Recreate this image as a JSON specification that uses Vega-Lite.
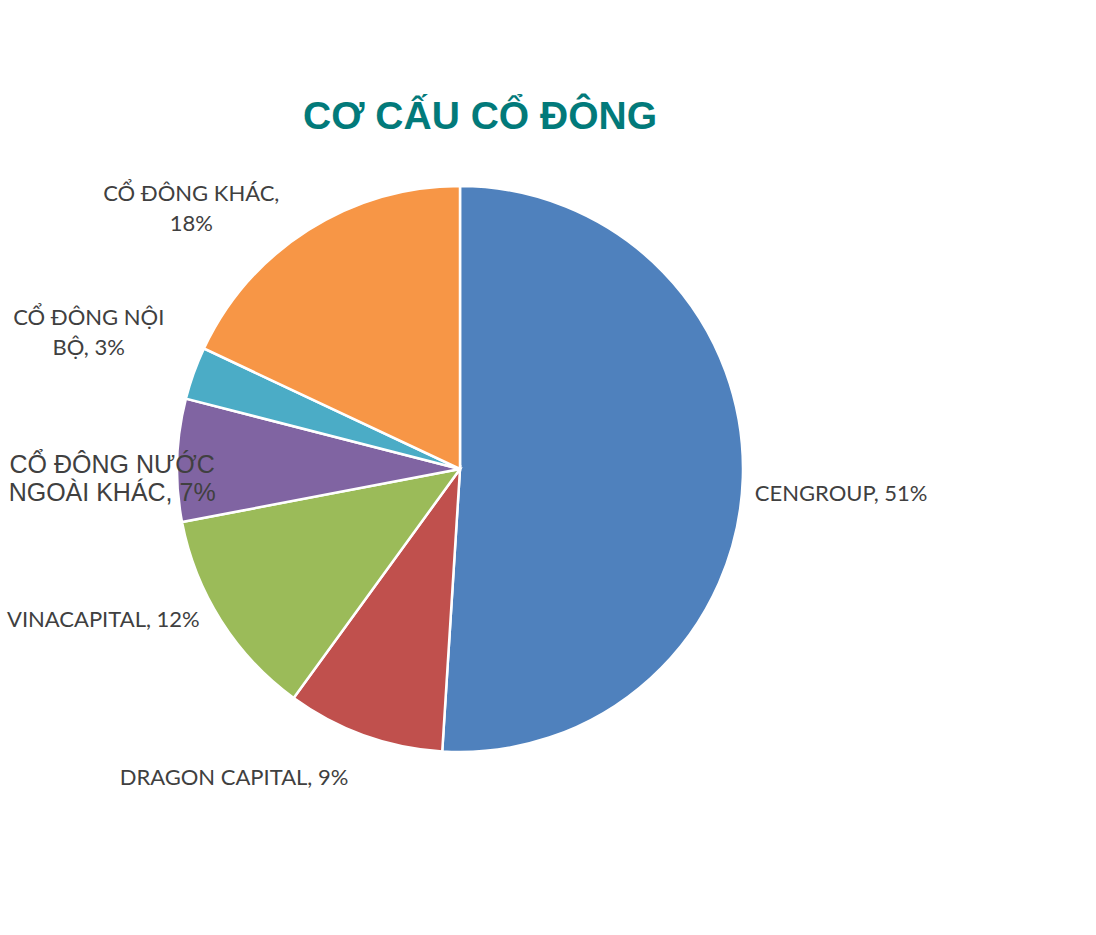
{
  "$schema": "https://vega.github.io/schema/vega-lite/v6.json",
  "width": 920,
  "height": 638,
  "autosize": {"type": "none"},
  "padding": {"left": 0, "top": 150, "right": 176, "bottom": 147},
  "background": "white",
  "view": {"stroke": null},
  "title": {
    "text": "CƠ CẤU CỔ ĐÔNG",
    "font": "Liberation Sans",
    "fontSize": 39,
    "fontWeight": "bold",
    "color": "#027A7A",
    "anchor": "middle",
    "dx": 20,
    "offset": 13
  },
  "data": {
    "values": [
      {"rank": 1, "name": "CENGROUP", "value": 51, "label": "CENGROUP, 51%"},
      {"rank": 2, "name": "DRAGON CAPITAL", "value": 9, "label": "DRAGON CAPITAL, 9%"},
      {"rank": 3, "name": "VINACAPITAL", "value": 12, "label": "VINACAPITAL, 12%"},
      {"rank": 4, "name": "CỔ ĐÔNG NƯỚC NGOÀI KHÁC", "value": 7, "label": "CỔ ĐÔNG NƯỚC\nNGOÀI KHÁC, 7%"},
      {"rank": 5, "name": "CỔ ĐÔNG NỘI BỘ", "value": 3, "label": "CỔ ĐÔNG NỘI\nBỘ, 3%"},
      {"rank": 6, "name": "CỔ ĐÔNG KHÁC", "value": 18, "label": "CỔ ĐÔNG KHÁC,\n18%"}
    ]
  },
  "encoding": {
    "theta": {"field": "value", "type": "quantitative", "stack": true},
    "order": {"field": "rank", "type": "quantitative"}
  },
  "layer": [
    {
      "mark": {"type": "arc", "outerRadius": 283, "stroke": "white", "strokeWidth": 2.5},
      "encoding": {
        "color": {
          "field": "name",
          "type": "nominal",
          "sort": null,
          "legend": null,
          "scale": {
            "domain": ["CENGROUP", "DRAGON CAPITAL", "VINACAPITAL", "CỔ ĐÔNG NƯỚC NGOÀI KHÁC", "CỔ ĐÔNG NỘI BỘ", "CỔ ĐÔNG KHÁC"],
            "range": ["#4F81BD", "#C0504D", "#9BBB59", "#8064A2", "#4BACC6", "#F79646"]
          }
        }
      }
    },
    {
      "mark": {"type": "text", "radius": 300, "align": "left", "baseline": "middle", "dx": -5, "dy": 16, "font": "Lato", "fontSize": 22, "color": "#404040", "lineBreak": "\n"},
      "encoding": {"text": {"condition": {"test": "datum.rank == 1", "field": "label"}, "value": ""}}
    },
    {
      "mark": {"type": "text", "radius": 300, "align": "right", "baseline": "middle", "dx": -10, "dy": 27, "font": "Lato", "fontSize": 22, "color": "#404040", "lineBreak": "\n"},
      "encoding": {"text": {"condition": {"test": "datum.rank == 2", "field": "label"}, "value": ""}}
    },
    {
      "mark": {"type": "text", "radius": 300, "align": "right", "baseline": "middle", "dx": -7, "dy": -10, "font": "Lato", "fontSize": 22, "color": "#404040", "lineBreak": "\n"},
      "encoding": {"text": {"condition": {"test": "datum.rank == 3", "field": "label"}, "value": ""}}
    },
    {
      "mark": {"type": "text", "radius": 300, "align": "center", "baseline": "middle", "dx": -48, "dy": 5, "font": "Liberation Sans", "fontSize": 25, "lineHeight": 28, "color": "#404040", "lineBreak": "\n"},
      "encoding": {"text": {"condition": {"test": "datum.rank == 4", "field": "label"}, "value": ""}}
    },
    {
      "mark": {"type": "text", "radius": 300, "align": "center", "baseline": "middle", "dx": -89, "dy": -49, "font": "Lato", "fontSize": 22, "lineHeight": 30, "color": "#404040", "lineBreak": "\n"},
      "encoding": {"text": {"condition": {"test": "datum.rank == 5", "field": "label"}, "value": ""}}
    },
    {
      "mark": {"type": "text", "radius": 300, "align": "center", "baseline": "middle", "dx": -108, "dy": -22, "font": "Lato", "fontSize": 22, "lineHeight": 30, "color": "#404040", "lineBreak": "\n"},
      "encoding": {"text": {"condition": {"test": "datum.rank == 6", "field": "label"}, "value": ""}}
    }
  ]
}
